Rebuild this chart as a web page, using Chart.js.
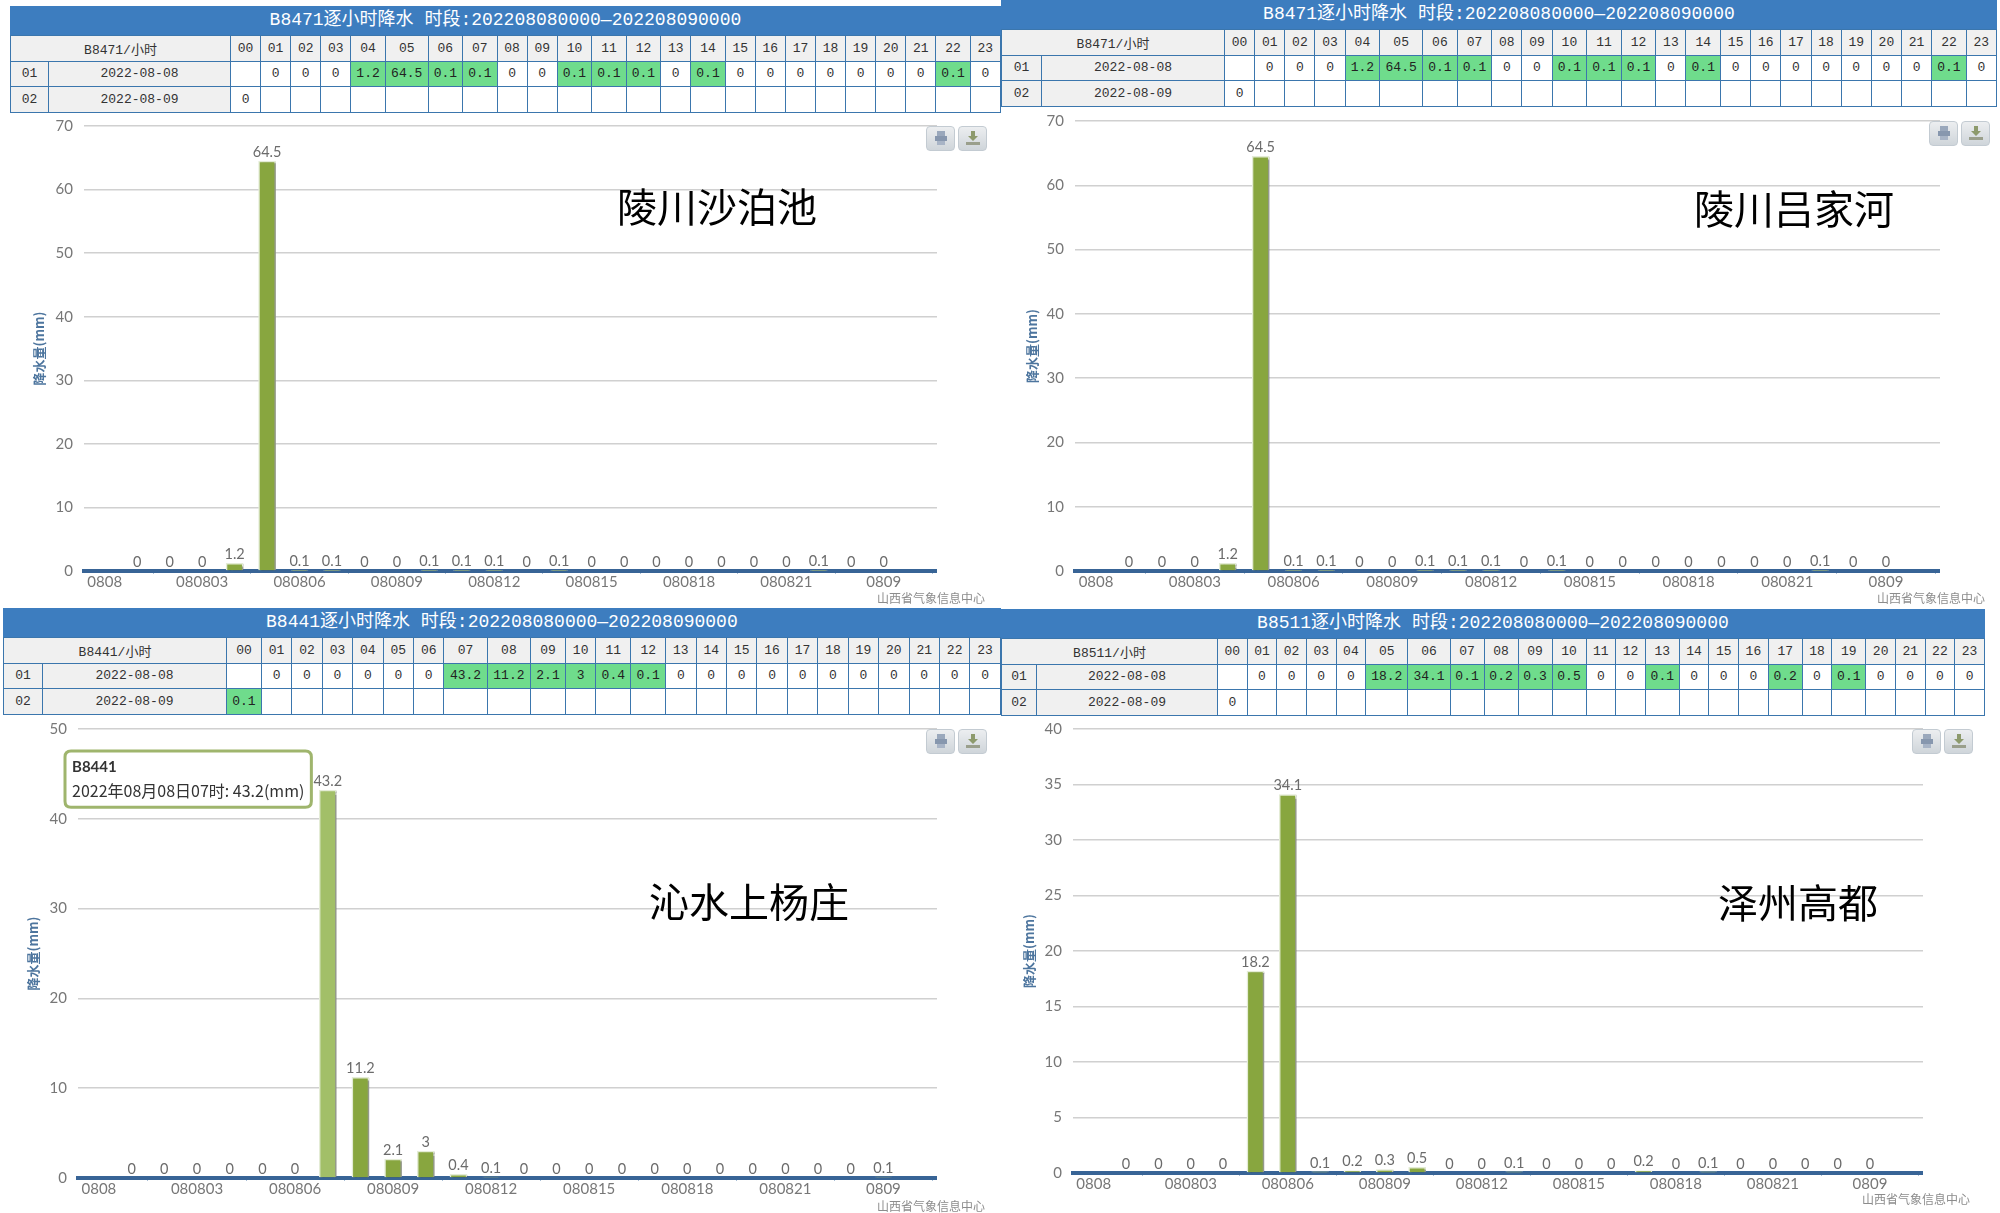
<!DOCTYPE html>
<html>
<head>
<meta charset="utf-8">
<title>逐小时降水</title>
<script src="https://cdn.jsdelivr.net/npm/chart.js@4/dist/chart.umd.js"></script>
<style>
  html, body { margin: 0; padding: 0; background: #fff; }
  #page { position: relative; width: 2000px; height: 1213px; overflow: hidden; }
  #page > * { position: absolute; }
  canvas { display: block; }
  table.rain { border-collapse: collapse; table-layout: fixed; font: 13px "Liberation Mono", "Noto Sans CJK SC", monospace; color: #333; }
  table.rain caption { background: #3d7dbf; color: #fff; font: 18px/29px "Liberation Mono", "Noto Sans CJK SC", monospace; height: 29px; white-space: nowrap; }
  table.rain td { border: 1px solid #3b76ad; padding: 0; text-align: center; height: 24.5px; background: #fff; white-space: nowrap; }
  table.rain td.head { background: #f0f0f0; }
  table.rain td.wet { background: #6fdc8c; color: #222; }
  .place { font: 40px/48px "Noto Sans CJK SC", sans-serif; color: #000; white-space: nowrap; }
  .credit { font: 12px/16px "Noto Sans CJK SC", sans-serif; color: #8c8c8c; white-space: nowrap; }
  .btn { width: 27px; height: 23px; border: 1px solid #c3cbd2; border-radius: 4px; background: linear-gradient(#eceef0, #cfd5da); }
  .btn svg { display: block; margin: 3px auto 0; }
</style>
</head>
<body>
<div id="page"></div>
<script>
// x axis: one bar per hour, first is 08 Aug 00h, last is 09 Aug 00h
var hours = ['00','01','02','03','04','05','06','07','08','09','10','11','12','13','14','15','16','17','18','19','20','21','22','23'];
var xLabels = ['0808','080801','080802','080803','080804','080805','080806','080807','080808','080809','080810','080811','080812','080813','080814','080815','080816','080817','080818','080819','080820','080821','080822','080823','0809'];

var rainShabochi = [null,0,0,0,1.2,64.5,0.1,0.1,0,0,0.1,0.1,0.1,0,0.1,0,0,0,0,0,0,0,0.1,0,0];
var rainLvjiahe = [null,0,0,0,1.2,64.5,0.1,0.1,0,0,0.1,0.1,0.1,0,0.1,0,0,0,0,0,0,0,0.1,0,0];
var rainShangyangzhuang = [null,0,0,0,0,0,0,43.2,11.2,2.1,3,0.4,0.1,0,0,0,0,0,0,0,0,0,0,0,0.1];
var rainGaodu = [null,0,0,0,0,18.2,34.1,0.1,0.2,0.3,0.5,0,0,0.1,0,0,0,0.2,0,0.1,0,0,0,0,0];

var dates = ['2022-08-08', '2022-08-09'];
var period = '时段:202208080000—202208090000';
var creditText = '山西省气象信息中心';

var panels = [
  { code: 'B8471', place: '陵川沙泊池', values: rainShabochi, yMax: 70, yStep: 10,
    tableX: 10, tableY: 6, tableRight: 1000, idxW: 38, dateW: 182,
    left: 84, right: 937, top: 126, bottom: 571, titleX: 38,
    placeX: 617, placeY: 181, creditX: 877, creditY: 590, btnX: [926, 958], btnY: 126 },
  { code: 'B8471', place: '陵川吕家河', values: rainLvjiahe, yMax: 70, yStep: 10,
    tableX: 1001, tableY: 0, tableRight: 1996, idxW: 40, dateW: 183,
    left: 1075, right: 1940, top: 121, bottom: 571, titleX: 1031,
    placeX: 1694, placeY: 183, creditX: 1877, creditY: 590, btnX: [1929, 1961], btnY: 121 },
  { code: 'B8441', place: '沁水上杨庄', values: rainShangyangzhuang, yMax: 50, yStep: 10,
    tableX: 3, tableY: 608, tableRight: 1000, idxW: 39, dateW: 184,
    left: 78, right: 937, top: 729, bottom: 1178, titleX: 32,
    placeX: 649, placeY: 876, creditX: 877, creditY: 1198, btnX: [926, 958], btnY: 729,
    tipIndex: 7, tipText: '2022年08月08日07时: 43.2(mm)', tipX: 65, tipY: 751 },
  { code: 'B8511', place: '泽州高都', values: rainGaodu, yMax: 40, yStep: 5,
    tableX: 1001, tableY: 609, tableRight: 1984, idxW: 35, dateW: 181,
    left: 1073, right: 1923, top: 729, bottom: 1173, titleX: 1028,
    placeX: 1718, placeY: 877, creditX: 1862, creditY: 1191, btnX: [1912, 1944], btnY: 729 }
];

var page = document.getElementById('page');

function addEl(tag, cls, x, y, text) {
  var el = document.createElement(tag);
  el.className = cls;
  el.style.left = x + 'px';
  el.style.top = y + 'px';
  if (text) el.textContent = text;
  page.appendChild(el);
  return el;
}

function cell(tr, text, cls) {
  var td = document.createElement('td');
  td.textContent = text;
  if (cls) td.className = cls;
  tr.appendChild(td);
  return td;
}

function hourValue(p, r, i) {
  if (r == 0) return p.values[i];
  return i == 0 ? p.values[24] : null;
}

// hour columns get wider with the longest value in them
function hourWidths(p) {
  var total = p.tableRight - p.tableX - p.idxW - p.dateW;
  var w = hours.map(function(h, i) {
    var len = 2;
    [0, 1].forEach(function(r) {
      var v = hourValue(p, r, i);
      if (v !== null) len = Math.max(len, String(v).length);
    });
    return len >= 4 ? 42.7 : (len == 3 ? 34.4 : 30);
  });
  var sum = w.reduce(function(a, b) { return a + b; }, 0);
  return w.map(function(x) { return x * total / sum; });
}

function buildTable(p) {
  var table = addEl('table', 'rain', p.tableX, p.tableY);
  table.style.width = (p.tableRight - p.tableX) + 'px';
  var cap = document.createElement('caption');
  cap.textContent = p.code + '逐小时降水 ' + period;
  table.appendChild(cap);

  var cols = document.createElement('colgroup');
  [p.idxW, p.dateW].concat(hourWidths(p)).forEach(function(w) {
    var col = document.createElement('col');
    col.style.width = w + 'px';
    cols.appendChild(col);
  });
  table.appendChild(cols);

  var tr = document.createElement('tr');
  var first = cell(tr, p.code + '/小时', 'head');
  first.colSpan = 2;
  hours.forEach(function(h) { cell(tr, h, 'head'); });
  table.appendChild(tr);

  dates.forEach(function(date, r) {
    var row = document.createElement('tr');
    cell(row, '0' + (r + 1), 'head');
    cell(row, date, 'head');
    hours.forEach(function(h, i) {
      var v = hourValue(p, r, i);
      var has = v !== null;
      cell(row, has ? String(v) : '', has && v > 0 ? 'wet' : '');
    });
    table.appendChild(row);
  });
}

function buildButtons(p) {
  var print = addEl('div', 'btn', p.btnX[0], p.btnY);
  print.innerHTML = '<svg width="16" height="16"><rect x="4" y="1" width="8" height="5" fill="#9aa8bc"/><rect x="2" y="6" width="12" height="5" fill="#8797ae"/><rect x="4" y="11" width="8" height="4" fill="#a8b4c6"/></svg>';
  var save = addEl('div', 'btn', p.btnX[1], p.btnY);
  save.innerHTML = '<svg width="16" height="16"><path d="M6 1h4v5h3l-5 5-5-5h3z" fill="#8d9a6c"/><rect x="1" y="12" width="14" height="3" fill="#9a9f8c"/></svg>';
}

// bar value above each bar, like the source site's data labels
var valueLabels = {
  id: 'valueLabels',
  afterDatasetsDraw: function(chart) {
    var ctx = chart.ctx;
    var meta = chart.getDatasetMeta(0);
    ctx.save();
    ctx.font = '14.5px Lato';
    ctx.fillStyle = '#6b6b6b';
    ctx.textAlign = 'center';
    ctx.textBaseline = 'middle';
    meta.data.forEach(function(bar, i) {
      var v = chart.data.datasets[0].data[i].y;
      if (v === null) return;
      ctx.fillText(String(v), bar.x, bar.y - 9);
    });
    ctx.restore();
  }
};

var barShadow = {
  id: 'barShadow',
  beforeDatasetDraw: function(chart) {
    var ctx = chart.ctx;
    ctx.save();
    ctx.shadowColor = 'rgba(0,0,0,0.35)';
    ctx.shadowOffsetX = 3;
    ctx.shadowOffsetY = 1;
    ctx.shadowBlur = 1;
  },
  afterDatasetDraw: function(chart) {
    chart.ctx.restore();
  }
};

Chart.Tooltip.positioners.fixedBox = function() {
  var o = this.chart.options.plugins.tooltip;
  return { x: o.boxX, y: o.boxY };
};

function buildChart(p) {
  var padTop = 12, xHeight = 32;
  var L = p.titleX - 7;
  var T = p.top - padTop;
  var canvas = addEl('canvas', '', L, T);
  canvas.width = p.right - L;
  canvas.height = p.bottom + xHeight - T;

  var chart = new Chart(canvas, {
    type: 'bar',
    data: {
      datasets: [{
        label: p.code,
        data: p.values.map(function(v, i) { return { x: i, y: v }; }),
        backgroundColor: '#88a63f',
        hoverBackgroundColor: '#a2bf68',
        borderColor: '#e4ecd6',
        hoverBorderColor: '#e4ecd6',
        borderWidth: 1.5,
        barThickness: 17
      }]
    },
    options: {
      responsive: false,
      animation: false,
      events: [],
      layout: { padding: { top: padTop, left: 0, right: 0, bottom: 0 } },
      scales: {
        x: {
          type: 'linear',
          offset: false,
          min: -0.64,
          max: 25.64,
          afterFit: function(s) { s.height = xHeight; s.paddingLeft = 0; s.paddingRight = 0; },
          afterBuildTicks: function(s) {
            var t = [];
            for (var i = 0; i < xLabels.length; i += 3) t.push({ value: i });
            s.ticks = t;
          },
          grid: { drawOnChartArea: false, drawTicks: true, tickLength: 3, tickColor: '#a9bfd6' },
          border: { color: '#386496', width: 4 },
          ticks: {
            autoSkip: false,
            maxRotation: 0,
            padding: -1,
            color: '#777',
            font: { family: 'Lato', size: 15 },
            callback: function(v) { return xLabels[v]; }
          }
        },
        y: {
          min: 0,
          max: p.yMax,
          afterFit: function(s) { s.width = p.left - L; s.paddingTop = 0; s.paddingBottom = 0; },
          ticks: { stepSize: p.yStep, padding: 11, color: '#777', font: { family: 'Lato', size: 15 } },
          grid: { color: '#d0d0d0', lineWidth: 1.5, drawTicks: false },
          border: { display: false },
          title: {
            display: true,
            text: '降水量(mm)',
            padding: 0,
            color: '#4d759e',
            font: { family: 'Noto Sans CJK SC', size: 13, weight: 'bold' }
          }
        }
      },
      plugins: {
        legend: { display: false },
        title: { display: false },
        tooltip: {
          enabled: p.tipIndex !== undefined,
          position: 'fixedBox',
          boxX: p.tipX - L + 6,
          boxY: p.tipY - T,
          xAlign: 'left',
          yAlign: 'top',
          caretSize: 0,
          caretPadding: 0,
          cornerRadius: 6,
          displayColors: false,
          backgroundColor: '#fff',
          borderColor: '#9fb56d',
          borderWidth: 3,
          padding: { x: 7, y: 7 },
          titleColor: '#333',
          bodyColor: '#333',
          titleFont: { family: 'Lato', size: 15, weight: 'bold' },
          bodyFont: { family: 'Noto Sans CJK SC', size: 16 },
          titleMarginBottom: 5,
          callbacks: {
            title: function() { return p.code; },
            label: function() { return p.tipText; }
          }
        }
      }
    },
    plugins: [barShadow, valueLabels]
  });

  if (p.tipIndex !== undefined) {
    var active = [{ datasetIndex: 0, index: p.tipIndex }];
    chart.setActiveElements(active);
    chart.tooltip.setActiveElements(active, { x: 0, y: 0 });
    chart.render();
  }
}

panels.forEach(function(p) {
  buildTable(p);
  buildChart(p);
  buildButtons(p);
  addEl('div', 'place', p.placeX, p.placeY, p.place);
  addEl('div', 'credit', p.creditX, p.creditY, creditText);
});
</script>
</body>
</html>
